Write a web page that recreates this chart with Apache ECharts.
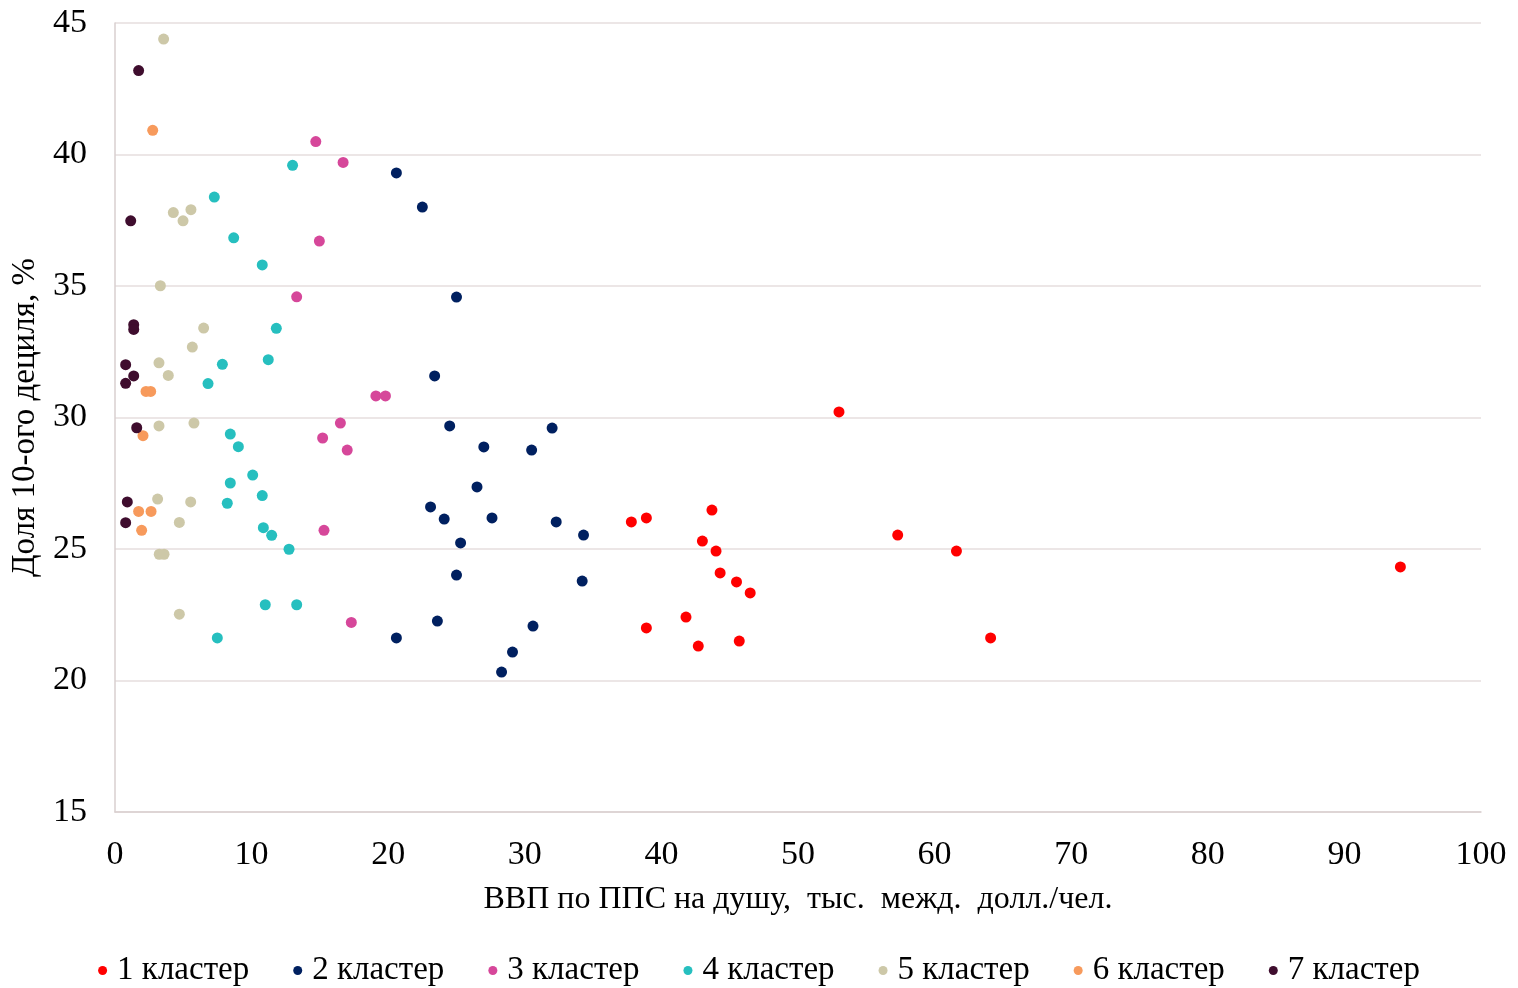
<!DOCTYPE html>
<html><head><meta charset="utf-8">
<script src="https://cdn.jsdelivr.net/npm/echarts@6/dist/echarts.min.js"></script>
<style>html,body{margin:0;padding:0;background:#fff}#c{width:1518px;height:988px}</style>
</head><body><div id="c"></div>
<script>
const seriesNames = ['1 кластер','2 кластер','3 кластер','4 кластер','5 кластер','6 кластер','7 кластер'];
const seriesColors = ['#ff0000','#002060','#d6479a','#26bfbf','#cdc8a8','#f79a5c','#3f0d2e'];
const cluster1 = [[53.0,30.21],[37.8,26.03],[38.9,26.18],[43.7,26.48],[43.0,25.30],[44.0,24.92],[44.3,24.09],[45.5,23.75],[46.5,23.33],[57.3,25.53],[61.6,24.92],[94.1,24.32],[38.9,22.0],[41.8,22.41],[42.7,21.31],[45.7,21.50],[64.1,21.62]];
const cluster2 = [[20.6,39.30],[22.5,38.00],[25.0,34.58],[23.4,31.58],[24.5,29.68],[27.0,28.88],[32.0,29.60],[30.5,28.76],[26.5,27.36],[23.1,26.60],[24.1,26.14],[27.6,26.18],[32.3,26.03],[34.3,25.53],[25.3,25.23],[25.0,24.01],[34.2,23.78],[23.6,22.26],[20.6,21.62],[30.6,22.07],[29.1,21.08],[28.3,20.32]];
const cluster3 = [[14.7,40.49],[16.7,39.70],[14.96,36.71],[13.3,34.59],[19.1,30.82],[19.8,30.82],[16.5,29.79],[15.2,29.22],[17.0,28.76],[15.3,25.71],[17.3,22.21]];
const cluster4 = [[13.0,39.59],[7.27,38.38],[8.69,36.83],[10.78,35.80],[11.81,33.39],[11.22,32.20],[7.86,32.02],[6.81,31.29],[8.44,29.37],[9.03,28.89],[10.08,27.81],[8.44,27.51],[10.78,27.03],[8.22,26.74],[10.86,25.81],[11.47,25.52],[12.74,24.99],[11.0,22.88],[13.3,22.88],[7.49,21.62]];
const cluster5 = [[3.56,44.39],[4.27,37.79],[5.56,37.90],[4.98,37.48],[3.32,35.01],[6.49,33.40],[5.66,32.68],[3.22,32.08],[3.90,31.60],[3.22,29.68],[5.78,29.79],[3.12,26.90],[5.54,26.79],[4.71,26.01],[3.24,24.80],[3.59,24.80],[4.71,22.52]];
const cluster6 = [[2.76,40.92],[2.27,30.99],[2.61,30.99],[2.05,29.31],[1.73,26.43],[2.64,26.43],[1.95,25.71]];
const cluster7 = [[1.73,43.19],[1.15,37.48],[1.37,33.53],[1.37,33.35],[0.78,32.01],[1.37,31.58],[0.78,31.30],[1.59,29.61],[0.90,26.79],[0.78,26.00]];
const clusters = [cluster1,cluster2,cluster3,cluster4,cluster5,cluster6,cluster7];
const xTitle = 'ВВП по ППС на душу,  тыс.  межд.  долл./чел.';
const yTitle = 'Доля 10-ого дециля, %';

const font = '"Liberation Serif","Times New Roman",serif';
const chart = echarts.init(document.getElementById('c'), null, {renderer:'canvas'});
chart.setOption({
  animation:false,
  backgroundColor:'#fff',
  grid:{left:115,right:37,top:23,bottom:176,containLabel:false},
  xAxis:{type:'value',min:0,max:100,interval:10,
    name:xTitle,nameLocation:'middle',nameGap:72,
    nameTextStyle:{fontFamily:font,fontSize:32,color:'#000'},
    axisLine:{show:true,lineStyle:{color:'#d9cfcf',width:1.5}},
    axisTick:{show:false},
    splitLine:{show:false},
    axisLabel:{fontFamily:font,fontSize:34,color:'#000',margin:26}},
  yAxis:{type:'value',min:15,max:45,interval:5,
    name:yTitle,nameLocation:'middle',nameGap:68,nameRotate:90,
    nameTextStyle:{fontFamily:font,fontSize:33,color:'#000'},
    axisLine:{show:true,lineStyle:{color:'#d9cfcf',width:1.5}},
    axisTick:{show:false},
    splitLine:{show:true,lineStyle:{color:'#e6dede',width:1.5}},
    axisLabel:{fontFamily:font,fontSize:34,color:'#000',margin:28}},
  legend:{top:949,left:'center',itemWidth:9,itemHeight:9,itemGap:44,icon:'circle',
    textStyle:{fontFamily:font,fontSize:33,color:'#000',padding:[0,0,0,5]},
    data:seriesNames},
  series:clusters.map((d,i)=>({
    name:seriesNames[i],type:'scatter',data:d,symbol:'circle',symbolSize:11,
    itemStyle:{color:seriesColors[i],opacity:1}
  }))
});
</script></body></html>
